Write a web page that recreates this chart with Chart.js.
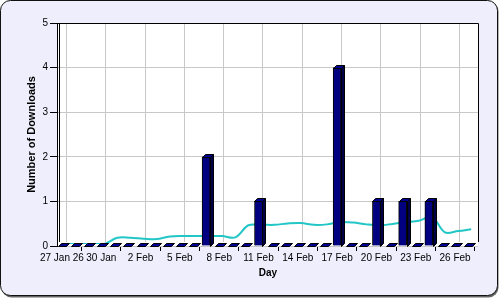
<!DOCTYPE html>
<html>
<head>
<meta charset="utf-8">
<script src="https://cdn.jsdelivr.net/npm/chart.js@4/dist/chart.umd.min.js"></script>
<style>
  html, body { margin: 0; padding: 0; background: #fff; }
</style>
</head>
<body>
<canvas id="downloadsChart" width="500" height="300"></canvas>
<script>
// one entry per day, starting 27 Jan
const dayLabels = [
  '27 Jan 26', '28 Jan', '29 Jan', '30 Jan', '31 Jan',
  '1 Feb', '2 Feb', '3 Feb', '4 Feb', '5 Feb', '6 Feb', '7 Feb', '8 Feb', '9 Feb', '10 Feb',
  '11 Feb', '12 Feb', '13 Feb', '14 Feb', '15 Feb', '16 Feb', '17 Feb', '18 Feb', '19 Feb', '20 Feb',
  '21 Feb', '22 Feb', '23 Feb', '24 Feb', '25 Feb', '26 Feb', '27 Feb'
];
const downloads = [
  0, 0, 0, 0, 0,
  0, 0, 0, 0, 0, 0, 2, 0, 0, 0,
  1, 0, 0, 0, 0, 0, 4, 0, 0, 1,
  0, 1, 0, 1, 0, 0, 0
];
const average = [
  0, 0, 0, 0, 0.14,
  0.14, 0.12, 0.11, 0.17, 0.18, 0.18, 0.18, 0.18, 0.15, 0.42,
  0.43, 0.43, 0.46, 0.47, 0.43, 0.44, 0.49, 0.48, 0.44, 0.42,
  0.45, 0.49, 0.52, 0.61, 0.26, 0.29, 0.33
];
const xTickDays = [0, 3, 6, 9, 12, 15, 18, 21, 24, 27, 30];
const yTicks = [0, 1, 2, 3, 4, 5];

const FONT = '"Liberation Sans", Arial, sans-serif';
const WALL = 4;   // depth of the back wall
const DEPTH = 3;  // depth of the bars

const roundRect = (ctx, x, y, w, h, r) => {
  ctx.beginPath();
  ctx.moveTo(x + r, y);
  ctx.arcTo(x + w, y, x + w, y + h, r);
  ctx.arcTo(x + w, y + h, x, y + h, r);
  ctx.arcTo(x, y + h, x, y, r);
  ctx.arcTo(x, y, x + w, y, r);
  ctx.closePath();
};

// lavender panel with rounded border, white plot area
const framePlugin = {
  id: 'frame',
  beforeDraw(chart) {
    const { ctx, chartArea: a } = chart;
    ctx.save();
    roundRect(ctx, 1.5, 1.5, 497, 296, 10);
    ctx.fillStyle = '#666';
    ctx.fill();
    roundRect(ctx, 0.5, 0.5, 497, 295, 10);
    ctx.fillStyle = '#eeeefc';
    ctx.fill();
    ctx.strokeStyle = '#111';
    ctx.lineWidth = 1;
    ctx.stroke();
    ctx.fillStyle = '#fff';
    ctx.fillRect(a.left, a.top, a.right - a.left, a.bottom - a.top);
    ctx.restore();
  }
};

// back-wall grid lines, box edges and 3D bar faces
const wallPlugin = {
  id: 'wall',
  beforeDatasetsDraw(chart) {
    const { ctx, chartArea: a, scales } = chart;
    ctx.save();
    ctx.lineWidth = 1;
    ctx.strokeStyle = '#c8c8c8';
    scales.x.ticks.forEach(t => {
      const px = Math.round(scales.x.getPixelForValue(t.value)) + WALL + 0.5;
      ctx.beginPath();
      ctx.moveTo(px, a.top);
      ctx.lineTo(px, a.bottom - WALL);
      ctx.stroke();
    });
    ctx.strokeStyle = '#000';
    ctx.beginPath();
    ctx.moveTo(a.left - 0.5, a.bottom);
    ctx.lineTo(a.left - 0.5, a.top + 0.5);
    ctx.lineTo(a.right + 0.5, a.top + 0.5);
    ctx.lineTo(a.right + 0.5, a.bottom - WALL);
    ctx.moveTo(a.left + 1.5, a.bottom - WALL);
    ctx.lineTo(a.left + 1.5, a.top + 0.5);
    ctx.stroke();
    ctx.restore();
  },
  // the average line sits on the back wall
  beforeDatasetDraw(chart, args) {
    if (args.index === 1) {
      chart.ctx.save();
      chart.ctx.translate(3, -2);
    }
  },
  afterDatasetDraw(chart, args) {
    if (args.index === 1) {
      chart.ctx.restore();
      return;
    }
    const ctx = chart.ctx;
    ctx.save();
    ctx.lineWidth = 1;
    ctx.strokeStyle = '#000';
    chart.getDatasetMeta(0).data.forEach(bar => {
      const { x, y, base, width } = bar.getProps(['x', 'y', 'base', 'width'], true);
      const l = Math.round(x - width / 2) + 0.5;
      const r = l + width;
      const top = Math.round(y) + 0.5;
      const bot = Math.round(base) + 0.5;
      if (bot - top > 1) {
        ctx.beginPath();
        ctx.moveTo(r, top);
        ctx.lineTo(r + DEPTH, top - DEPTH);
        ctx.lineTo(r + DEPTH, bot - DEPTH);
        ctx.lineTo(r, bot);
        ctx.closePath();
        ctx.fillStyle = '#000048';
        ctx.fill();
        ctx.stroke();
      }
      ctx.beginPath();
      ctx.moveTo(l, top);
      ctx.lineTo(l + DEPTH, top - DEPTH);
      ctx.lineTo(r + DEPTH, top - DEPTH);
      ctx.lineTo(r, top);
      ctx.closePath();
      ctx.fillStyle = '#000090';
      ctx.fill();
      ctx.stroke();
    });
    ctx.restore();
  }
};

const ctx = document.getElementById('downloadsChart').getContext('2d');
new Chart(ctx, {
  type: 'bar',
  data: {
    datasets: [{
      label: 'Downloads',
      data: downloads.map((v, i) => ({ x: i, y: v })),
      backgroundColor: '#000080',
      borderColor: '#000',
      borderWidth: 1,
      barThickness: 8,
      order: 0
    }, {
      type: 'line',
      label: 'Average',
      data: average.map((v, i) => ({ x: i, y: v })),
      borderColor: '#22c6c6',
      borderWidth: 2,
      pointRadius: 0,
      tension: 0.35,
      fill: false,
      order: 1
    }]
  },
  options: {
    responsive: false,
    animation: false,
    layout: { padding: { left: 10, right: 22, top: 23, bottom: 21 } },
    plugins: {
      legend: { display: false },
      tooltip: { enabled: false }
    },
    scales: {
      x: {
        type: 'linear',
        offset: false,
        min: -0.3,
        max: 31.75,
        afterBuildTicks: s => { s.ticks = xTickDays.map(v => ({ value: v })); },
        ticks: {
          callback: v => dayLabels[v],
          color: '#000',
          font: { family: FONT, size: 10 },
          padding: 1,
          maxRotation: 0,
          autoSkip: false
        },
        grid: { drawOnChartArea: false, tickColor: '#000', tickLength: 5 },
        border: { display: false },
        title: {
          display: true,
          text: 'Day',
          color: '#000',
          font: { family: FONT, size: 10, weight: 'bold' },
          padding: { top: 2, bottom: 0 }
        }
      },
      y: {
        min: 0,
        max: 5,
        afterBuildTicks: s => { s.ticks = yTicks.map(v => ({ value: v })); },
        afterFit: s => { s.width = 48; },
        ticks: { color: '#000', font: { family: FONT, size: 10 }, padding: 2 },
        grid: { color: '#c8c8c8', tickColor: '#000', tickLength: 8 },
        border: { display: false },
        title: {
          display: true,
          text: 'Number of Downloads',
          color: '#000',
          font: { family: FONT, size: 11, weight: 'bold' },
          padding: { top: 15, bottom: 14 }
        }
      }
    }
  },
  plugins: [framePlugin, wallPlugin]
});
</script>
</body>
</html>
